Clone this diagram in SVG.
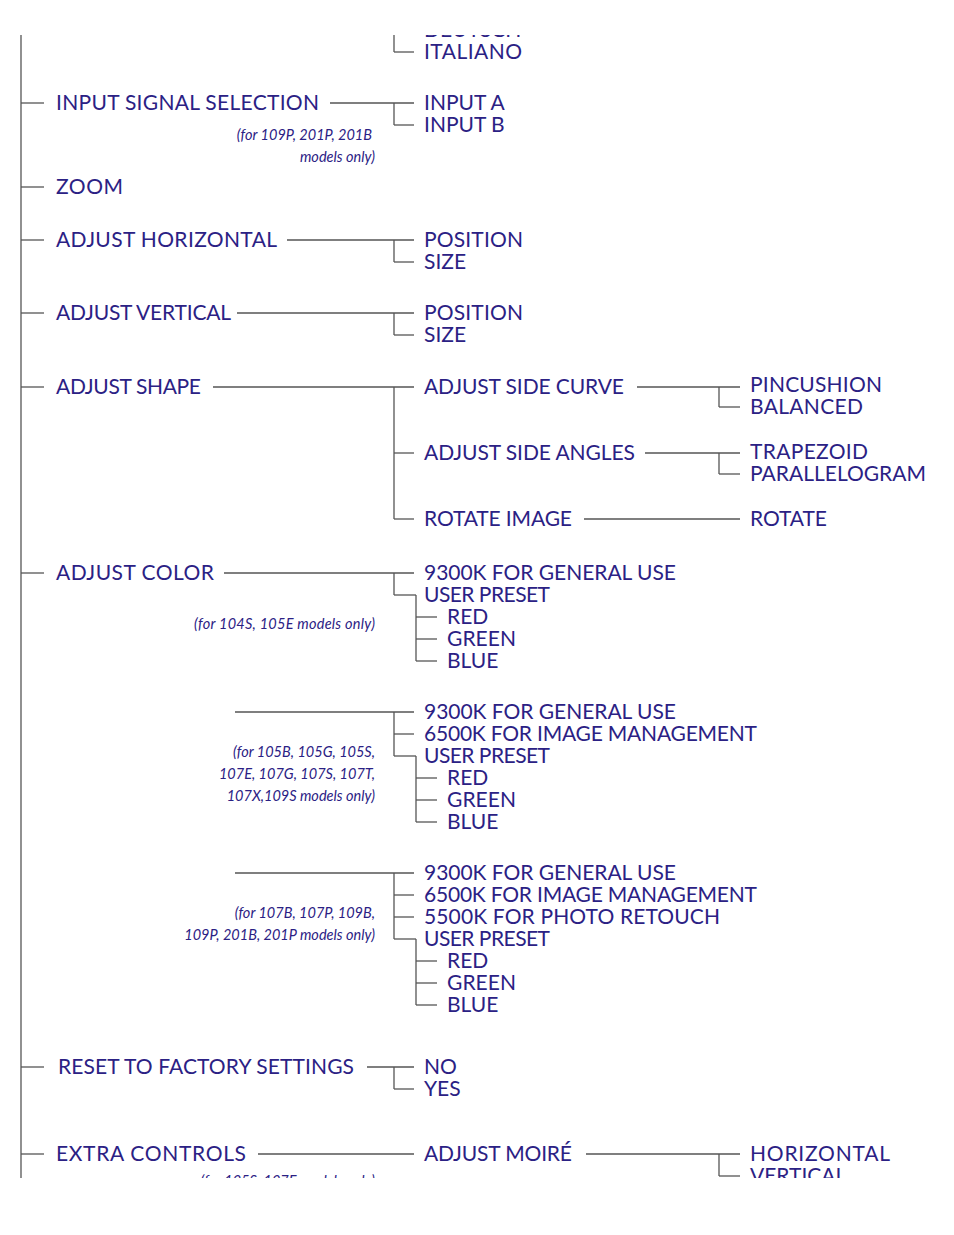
<svg xmlns="http://www.w3.org/2000/svg" width="954" height="1235" viewBox="0 0 954 1235">
<style>
text{font-family:Lato,"Open Sans","Liberation Sans",sans-serif;fill:#2b2184}
.t{font-size:21px}
.n{font-size:14.5px;font-style:italic;text-anchor:end}
.c line{stroke:#555;stroke-width:1.3}
</style>
<defs><clipPath id="cl"><rect x="0" y="35" width="954" height="1143"/></clipPath></defs>
<rect width="954" height="1235" fill="#fff"/>
<g clip-path="url(#cl)">
<g class="c" id="connectors">
<line x1="21" y1="0" x2="21" y2="1200"/>
<line x1="21" y1="103" x2="44" y2="103"/><line x1="21" y1="187" x2="44" y2="187"/>
<line x1="21" y1="240" x2="44" y2="240"/><line x1="21" y1="313" x2="44" y2="313"/>
<line x1="21" y1="387" x2="44" y2="387"/><line x1="21" y1="573" x2="44" y2="573"/>
<line x1="21" y1="1067" x2="44" y2="1067"/><line x1="21" y1="1154" x2="44" y2="1154"/>
<line x1="394" y1="0" x2="394" y2="52"/><line x1="394" y1="52" x2="414" y2="52"/>
<line x1="330" y1="103" x2="414" y2="103"/><line x1="394" y1="103" x2="394" y2="125"/><line x1="394" y1="125" x2="414" y2="125"/>
<line x1="287" y1="240" x2="414" y2="240"/><line x1="394" y1="240" x2="394" y2="262"/><line x1="394" y1="262" x2="414" y2="262"/>
<line x1="237" y1="313" x2="414" y2="313"/><line x1="394" y1="313" x2="394" y2="335"/><line x1="394" y1="335" x2="414" y2="335"/>
<line x1="213" y1="387" x2="414" y2="387"/><line x1="394" y1="387" x2="394" y2="519"/><line x1="394" y1="453" x2="414" y2="453"/><line x1="394" y1="519" x2="414" y2="519"/>
<line x1="637" y1="387" x2="740" y2="387"/><line x1="719" y1="387" x2="719" y2="407"/><line x1="719" y1="407" x2="740" y2="407"/>
<line x1="645" y1="453" x2="740" y2="453"/><line x1="719" y1="453" x2="719" y2="474"/><line x1="719" y1="474" x2="740" y2="474"/>
<line x1="584" y1="519" x2="740" y2="519"/>
<line x1="224" y1="573" x2="414" y2="573"/><line x1="394" y1="573" x2="394" y2="595"/><line x1="394" y1="595" x2="416" y2="595"/>
<line x1="416" y1="595" x2="416" y2="661"/><line x1="416" y1="617" x2="437" y2="617"/><line x1="416" y1="639" x2="437" y2="639"/><line x1="416" y1="661" x2="437" y2="661"/>
<line x1="235" y1="712" x2="414" y2="712"/><line x1="394" y1="712" x2="394" y2="756"/><line x1="394" y1="734" x2="414" y2="734"/><line x1="394" y1="756" x2="416" y2="756"/>
<line x1="416" y1="756" x2="416" y2="822"/><line x1="416" y1="778" x2="437" y2="778"/><line x1="416" y1="800" x2="437" y2="800"/><line x1="416" y1="822" x2="437" y2="822"/>
<line x1="235" y1="873" x2="414" y2="873"/><line x1="394" y1="873" x2="394" y2="939"/><line x1="394" y1="895" x2="414" y2="895"/><line x1="394" y1="917" x2="414" y2="917"/><line x1="394" y1="939" x2="416" y2="939"/>
<line x1="416" y1="939" x2="416" y2="1005"/><line x1="416" y1="961" x2="437" y2="961"/><line x1="416" y1="983" x2="437" y2="983"/><line x1="416" y1="1005" x2="437" y2="1005"/>
<line x1="367" y1="1067" x2="414" y2="1067"/><line x1="394" y1="1067" x2="394" y2="1089"/><line x1="394" y1="1089" x2="414" y2="1089"/>
<line x1="258" y1="1154" x2="414" y2="1154"/>
<line x1="586" y1="1154" x2="740" y2="1154"/><line x1="719" y1="1154" x2="719" y2="1176"/><line x1="719" y1="1176" x2="740" y2="1176"/>
</g>
<g id="lang" class="t"><text x="424" y="37">DEUTSCH</text><text x="424" y="59" textLength="98">ITALIANO</text></g>
<g id="input"><text class="t" x="56" y="110" textLength="263">INPUT SIGNAL SELECTION</text>
<text class="n" x="372" y="140">(for 109P, 201P, 201B</text><text class="n" x="375" y="162">models only)</text>
<text class="t" x="424" y="110">INPUT A</text><text class="t" x="424" y="132">INPUT B</text></g>
<g id="zoom"><text class="t" x="56" y="194" textLength="67">ZOOM</text></g>
<g id="horiz"><text class="t" x="56" y="247" textLength="221">ADJUST HORIZONTAL</text><text class="t" x="424" y="247" textLength="99">POSITION</text><text class="t" x="424" y="269">SIZE</text></g>
<g id="vert"><text class="t" x="56" y="320" textLength="175">ADJUST VERTICAL</text><text class="t" x="424" y="320" textLength="99">POSITION</text><text class="t" x="424" y="342">SIZE</text></g>
<g id="shape"><text class="t" x="56" y="394" textLength="145">ADJUST SHAPE</text>
<text class="t" x="424" y="394" textLength="200">ADJUST SIDE CURVE</text><text class="t" x="750" y="392" textLength="132">PINCUSHION</text><text class="t" x="750" y="414" textLength="113">BALANCED</text>
<text class="t" x="424" y="460" textLength="211">ADJUST SIDE ANGLES</text><text class="t" x="750" y="459" textLength="118">TRAPEZOID</text><text class="t" x="750" y="481" textLength="176">PARALLELOGRAM</text>
<text class="t" x="424" y="526" textLength="148">ROTATE IMAGE</text><text class="t" x="750" y="526" textLength="77">ROTATE</text></g>
<g id="color1"><text class="t" x="56" y="580" textLength="158">ADJUST COLOR</text>
<text class="n" x="375" y="629" textLength="181">(for 104S, 105E models only)</text>
<text class="t" x="424" y="580" textLength="252">9300K FOR GENERAL USE</text><text class="t" x="424" y="602" textLength="126">USER PRESET</text>
<text class="t" x="447" y="624">RED</text><text class="t" x="447" y="646" textLength="69">GREEN</text><text class="t" x="447" y="668">BLUE</text></g>
<g id="color2">
<text class="n" x="375" y="757">(for 105B, 105G, 105S,</text><text class="n" x="375" y="779">107E, 107G, 107S, 107T,</text><text class="n" x="375" y="801">107X,109S models only)</text>
<text class="t" x="424" y="719" textLength="252">9300K FOR GENERAL USE</text><text class="t" x="424" y="741" textLength="333">6500K FOR IMAGE MANAGEMENT</text><text class="t" x="424" y="763" textLength="126">USER PRESET</text>
<text class="t" x="447" y="785">RED</text><text class="t" x="447" y="807" textLength="69">GREEN</text><text class="t" x="447" y="829">BLUE</text></g>
<g id="color3">
<text class="n" x="375" y="918">(for 107B, 107P, 109B,</text><text class="n" x="375" y="940">109P, 201B, 201P models only)</text>
<text class="t" x="424" y="880" textLength="252">9300K FOR GENERAL USE</text><text class="t" x="424" y="902" textLength="333">6500K FOR IMAGE MANAGEMENT</text><text class="t" x="424" y="924" textLength="296">5500K FOR PHOTO RETOUCH</text><text class="t" x="424" y="946" textLength="126">USER PRESET</text>
<text class="t" x="447" y="968">RED</text><text class="t" x="447" y="990" textLength="69">GREEN</text><text class="t" x="447" y="1012">BLUE</text></g>
<g id="reset"><text class="t" x="58" y="1074" textLength="296">RESET TO FACTORY SETTINGS</text><text class="t" x="424" y="1074">NO</text><text class="t" x="424" y="1096">YES</text></g>
<g id="extra"><text class="t" x="56" y="1161" textLength="190">EXTRA CONTROLS</text><text class="n" x="375" y="1186">(for 105S, 107E models only)</text>
<text class="t" x="424" y="1161" textLength="148">ADJUST MOIRÉ</text><text class="t" x="750" y="1161" textLength="140">HORIZONTAL</text><text class="t" x="750" y="1183">VERTICAL</text></g>
</g>
</svg>
